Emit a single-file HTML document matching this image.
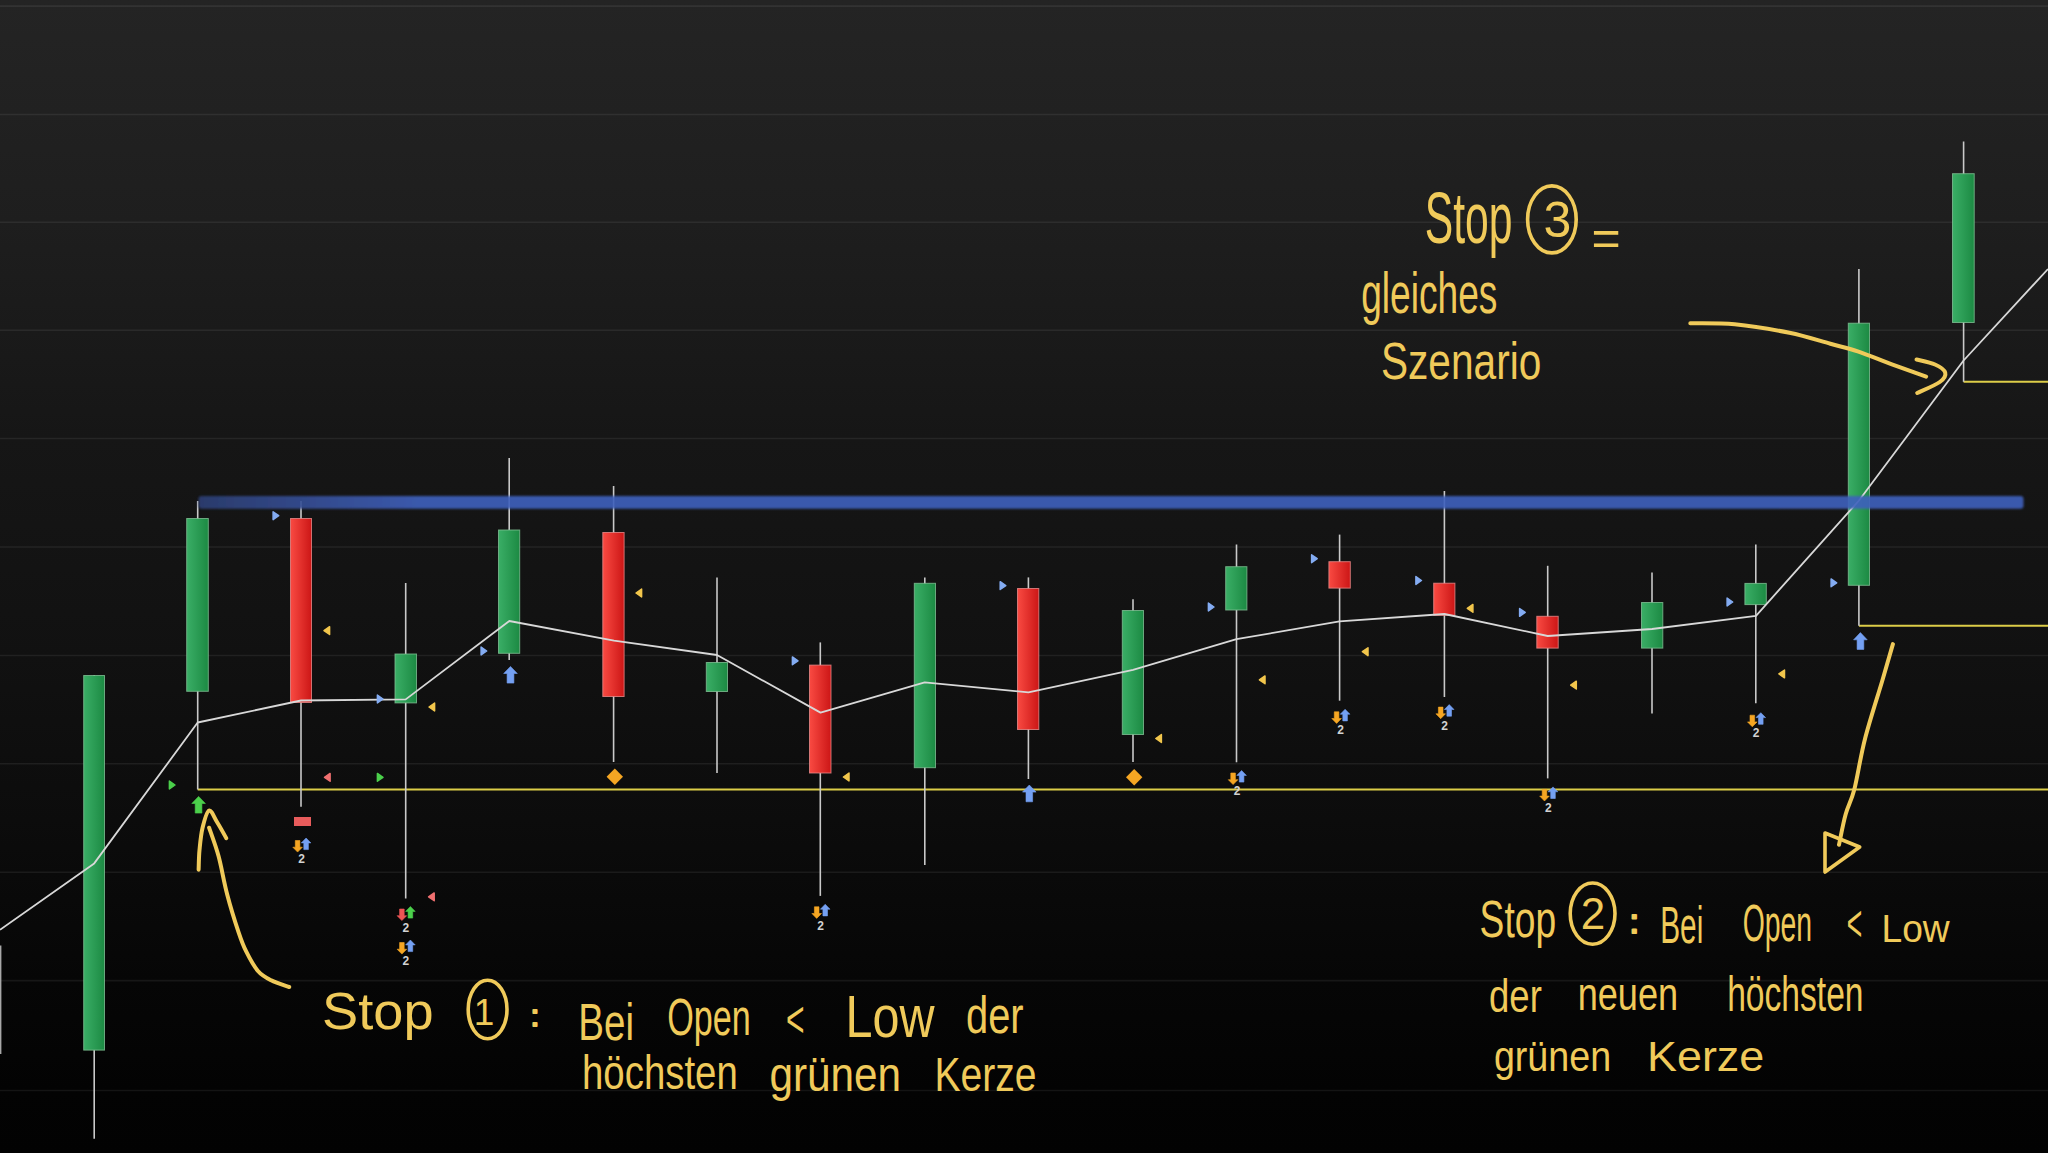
<!DOCTYPE html>
<html><head><meta charset="utf-8"><title>Chart</title>
<style>
html,body{margin:0;padding:0;width:2048px;height:1153px;overflow:hidden;background:#0f0f0f;}
svg{display:block;position:absolute;left:0;top:0;}
.hw{font-family:"Liberation Sans","DejaVu Sans",sans-serif;fill:#f0ca5a;}
.num{font-family:"Liberation Sans","DejaVu Sans",sans-serif;font-weight:700;font-size:12px;fill:#d2d2d2;}
</style></head><body>
<svg width="2048" height="1153" viewBox="0 0 2048 1153">
<defs>
<linearGradient id="bg" x1="0" y1="0" x2="0" y2="1"><stop offset="0.0000" stop-color="#242424"/><stop offset="0.1925" stop-color="#1e1e1e"/><stop offset="0.3799" stop-color="#161616"/><stop offset="0.5681" stop-color="#111111"/><stop offset="0.7112" stop-color="#0c0c0c"/><stop offset="0.8500" stop-color="#060606"/><stop offset="0.9454" stop-color="#030303"/><stop offset="1.0000" stop-color="#020202"/></linearGradient>
<linearGradient id="gg" x1="0" y1="0" x2="1" y2="0"><stop offset="0" stop-color="#3aae66"/><stop offset="1" stop-color="#1c8a43"/></linearGradient>
<linearGradient id="rg" x1="0" y1="0" x2="1" y2="0"><stop offset="0" stop-color="#f94a42"/><stop offset="1" stop-color="#cc1616"/></linearGradient>
<filter id="blur1" filterUnits="userSpaceOnUse" x="150" y="470" width="1920" height="70"><feGaussianBlur stdDeviation="0.9"/></filter>
<linearGradient id="bl" gradientUnits="userSpaceOnUse" x1="198" y1="0" x2="420" y2="0"><stop offset="0" stop-color="#2d3f74"/><stop offset="1" stop-color="#3f60bd"/></linearGradient>
</defs>
<rect x="0" y="0" width="2048" height="1153" fill="url(#bg)"/>
<line x1="0" x2="2048" y1="6.1" y2="6.1" stroke="#ffffff" stroke-opacity="0.07" stroke-width="1.6"/>
<line x1="0" x2="2048" y1="114.5" y2="114.5" stroke="#ffffff" stroke-opacity="0.07" stroke-width="1.6"/>
<line x1="0" x2="2048" y1="222.2" y2="222.2" stroke="#ffffff" stroke-opacity="0.07" stroke-width="1.6"/>
<line x1="0" x2="2048" y1="330.3" y2="330.3" stroke="#ffffff" stroke-opacity="0.07" stroke-width="1.6"/>
<line x1="0" x2="2048" y1="438.5" y2="438.5" stroke="#ffffff" stroke-opacity="0.07" stroke-width="1.6"/>
<line x1="0" x2="2048" y1="547" y2="547" stroke="#ffffff" stroke-opacity="0.07" stroke-width="1.6"/>
<line x1="0" x2="2048" y1="655.5" y2="655.5" stroke="#ffffff" stroke-opacity="0.07" stroke-width="1.6"/>
<line x1="0" x2="2048" y1="763.8" y2="763.8" stroke="#ffffff" stroke-opacity="0.07" stroke-width="1.6"/>
<line x1="0" x2="2048" y1="872.3" y2="872.3" stroke="#ffffff" stroke-opacity="0.07" stroke-width="1.6"/>
<line x1="0" x2="2048" y1="980.6" y2="980.6" stroke="#ffffff" stroke-opacity="0.07" stroke-width="1.6"/>
<line x1="0" x2="2048" y1="1090.5" y2="1090.5" stroke="#ffffff" stroke-opacity="0.07" stroke-width="1.6"/>
<line x1="0.7" x2="0.7" y1="945.5" y2="1054" stroke="#a8a8a8" stroke-width="1.4"/>
<g stroke="#dccd48" stroke-width="2" fill="none">
<line x1="197.7" x2="2048" y1="789.4" y2="789.4"/>
<line x1="1858.9" x2="2048" y1="625.8" y2="625.8"/>
<line x1="1963.6" x2="2048" y1="381.8" y2="381.8"/>
</g>
<g stroke="#c9c9c9" stroke-width="1.6">
<line x1="94.2" x2="94.2" y1="675" y2="1138.8"/>
<line x1="197.7" x2="197.7" y1="501" y2="789.5"/>
<line x1="301" x2="301" y1="501" y2="806.8"/>
<line x1="405.7" x2="405.7" y1="583" y2="898.4"/>
<line x1="509.2" x2="509.2" y1="458" y2="660"/>
<line x1="613.6" x2="613.6" y1="486" y2="762"/>
<line x1="717" x2="717" y1="577.5" y2="773"/>
<line x1="820.3" x2="820.3" y1="642.4" y2="895.9"/>
<line x1="924.8" x2="924.8" y1="577.5" y2="865"/>
<line x1="1028.4" x2="1028.4" y1="577.4" y2="779"/>
<line x1="1133" x2="1133" y1="599.3" y2="762"/>
<line x1="1236.5" x2="1236.5" y1="544.5" y2="762.3"/>
<line x1="1339.6" x2="1339.6" y1="534.6" y2="700.7"/>
<line x1="1444.4" x2="1444.4" y1="491" y2="697"/>
<line x1="1547.7" x2="1547.7" y1="565.8" y2="778.4"/>
<line x1="1652" x2="1652" y1="572.4" y2="713.5"/>
<line x1="1755.8" x2="1755.8" y1="544.6" y2="703.2"/>
<line x1="1858.9" x2="1858.9" y1="269" y2="625.8"/>
<line x1="1963.6" x2="1963.6" y1="141.5" y2="381.8"/>
</g>
<rect x="83.7" y="675.5" width="20.8" height="374.6" fill="url(#gg)" stroke="#7fbf93" stroke-width="1" stroke-opacity="0.8"/>
<rect x="186.7" y="518.5" width="21.6" height="172.8" fill="url(#gg)" stroke="#7fbf93" stroke-width="1" stroke-opacity="0.8"/>
<rect x="290.5" y="518.5" width="21" height="184" fill="url(#rg)" stroke="#e88a8a" stroke-width="1" stroke-opacity="0.8"/>
<rect x="395" y="654" width="21.5" height="48.9" fill="url(#gg)" stroke="#7fbf93" stroke-width="1" stroke-opacity="0.8"/>
<rect x="498.5" y="530" width="21.2" height="123.3" fill="url(#gg)" stroke="#7fbf93" stroke-width="1" stroke-opacity="0.8"/>
<rect x="602.8" y="532.5" width="21.3" height="164" fill="url(#rg)" stroke="#e88a8a" stroke-width="1" stroke-opacity="0.8"/>
<rect x="706.3" y="662.5" width="21.2" height="29" fill="url(#gg)" stroke="#7fbf93" stroke-width="1" stroke-opacity="0.8"/>
<rect x="809.5" y="665.1" width="21.5" height="107.9" fill="url(#rg)" stroke="#e88a8a" stroke-width="1" stroke-opacity="0.8"/>
<rect x="914.3" y="583.3" width="21.2" height="184.4" fill="url(#gg)" stroke="#7fbf93" stroke-width="1" stroke-opacity="0.8"/>
<rect x="1017.5" y="588.5" width="21.3" height="141" fill="url(#rg)" stroke="#e88a8a" stroke-width="1" stroke-opacity="0.8"/>
<rect x="1122.3" y="610.5" width="21.2" height="124" fill="url(#gg)" stroke="#7fbf93" stroke-width="1" stroke-opacity="0.8"/>
<rect x="1225.7" y="566.7" width="21.2" height="43.3" fill="url(#gg)" stroke="#7fbf93" stroke-width="1" stroke-opacity="0.8"/>
<rect x="1328.9" y="561.7" width="21.4" height="26.4" fill="url(#rg)" stroke="#e88a8a" stroke-width="1" stroke-opacity="0.8"/>
<rect x="1433.7" y="583.2" width="21.2" height="32.1" fill="url(#rg)" stroke="#e88a8a" stroke-width="1" stroke-opacity="0.8"/>
<rect x="1536.8" y="616.3" width="21.4" height="31.8" fill="url(#rg)" stroke="#e88a8a" stroke-width="1" stroke-opacity="0.8"/>
<rect x="1641.5" y="602.5" width="21.3" height="45.6" fill="url(#gg)" stroke="#7fbf93" stroke-width="1" stroke-opacity="0.8"/>
<rect x="1744.9" y="583.4" width="21.4" height="21.2" fill="url(#gg)" stroke="#7fbf93" stroke-width="1" stroke-opacity="0.8"/>
<rect x="1848.3" y="323.2" width="21.2" height="262.1" fill="url(#gg)" stroke="#7fbf93" stroke-width="1" stroke-opacity="0.8"/>
<rect x="1952.5" y="173.7" width="21.7" height="148.8" fill="url(#gg)" stroke="#7fbf93" stroke-width="1" stroke-opacity="0.8"/>
<polyline fill="none" stroke="#d8d8d8" stroke-width="1.8" stroke-linejoin="round" points="0,929.8 94.2,863.4 197.7,722.5 301,700.5 405.7,699.4 509.3,621 614,640.7 717,655 820.5,712.6 924.7,682.3 1028.4,692.3 1133,669.8 1236.5,639.2 1339.5,621.4 1444.4,614 1547.7,636 1652,629 1756,615.8 1859,500.5 1963.6,360.5 2048,269"/>
<rect x="198.5" y="496" width="1825" height="12.8" rx="3" fill="url(#bl)" fill-opacity="0.9" filter="url(#blur1)"/>
<g>
<path d="M273.1 511.8L278.7 515.7L273.1 519.6Z" fill="#84acf2" stroke="#84acf2" stroke-width="1.5" stroke-linejoin="round"/>
<path d="M377.4 695.1L383 699L377.4 702.9Z" fill="#84acf2" stroke="#84acf2" stroke-width="1.5" stroke-linejoin="round"/>
<path d="M481.1 647.1L486.7 651L481.1 654.9Z" fill="#84acf2" stroke="#84acf2" stroke-width="1.5" stroke-linejoin="round"/>
<path d="M792.4 656.9L798 660.8L792.4 664.7Z" fill="#84acf2" stroke="#84acf2" stroke-width="1.5" stroke-linejoin="round"/>
<path d="M1000.2 581.7L1005.8 585.6L1000.2 589.5Z" fill="#84acf2" stroke="#84acf2" stroke-width="1.5" stroke-linejoin="round"/>
<path d="M1208.4 603.1L1214 607L1208.4 610.9Z" fill="#84acf2" stroke="#84acf2" stroke-width="1.5" stroke-linejoin="round"/>
<path d="M1311.6 554.8L1317.2 558.7L1311.6 562.6Z" fill="#84acf2" stroke="#84acf2" stroke-width="1.5" stroke-linejoin="round"/>
<path d="M1415.9 576.6L1421.5 580.5L1415.9 584.4Z" fill="#84acf2" stroke="#84acf2" stroke-width="1.5" stroke-linejoin="round"/>
<path d="M1519.6 608.5L1525.2 612.4L1519.6 616.3Z" fill="#84acf2" stroke="#84acf2" stroke-width="1.5" stroke-linejoin="round"/>
<path d="M1727.1 598.1L1732.7 602L1727.1 605.9Z" fill="#84acf2" stroke="#84acf2" stroke-width="1.5" stroke-linejoin="round"/>
<path d="M1831.1 578.9L1836.7 582.8L1831.1 586.7Z" fill="#84acf2" stroke="#84acf2" stroke-width="1.5" stroke-linejoin="round"/>
<path d="M329.6 626.7L324 630.6L329.6 634.5Z" fill="#f2c64c" stroke="#f2c64c" stroke-width="1.5" stroke-linejoin="round"/>
<path d="M434.6 703.1L429 707L434.6 710.9Z" fill="#f2c64c" stroke="#f2c64c" stroke-width="1.5" stroke-linejoin="round"/>
<path d="M641.6 589.1L636 593L641.6 596.9Z" fill="#f2c64c" stroke="#f2c64c" stroke-width="1.5" stroke-linejoin="round"/>
<path d="M849 773.1L843.4 777L849 780.9Z" fill="#f2c64c" stroke="#f2c64c" stroke-width="1.5" stroke-linejoin="round"/>
<path d="M1161.4 734.6L1155.8 738.5L1161.4 742.4Z" fill="#f2c64c" stroke="#f2c64c" stroke-width="1.5" stroke-linejoin="round"/>
<path d="M1265 675.9L1259.4 679.8L1265 683.7Z" fill="#f2c64c" stroke="#f2c64c" stroke-width="1.5" stroke-linejoin="round"/>
<path d="M1368 647.8L1362.4 651.7L1368 655.6Z" fill="#f2c64c" stroke="#f2c64c" stroke-width="1.5" stroke-linejoin="round"/>
<path d="M1472.9 604.4L1467.3 608.3L1472.9 612.2Z" fill="#f2c64c" stroke="#f2c64c" stroke-width="1.5" stroke-linejoin="round"/>
<path d="M1576.3 681.2L1570.7 685.1L1576.3 689Z" fill="#f2c64c" stroke="#f2c64c" stroke-width="1.5" stroke-linejoin="round"/>
<path d="M1784.5 670L1778.9 673.9L1784.5 677.8Z" fill="#f2c64c" stroke="#f2c64c" stroke-width="1.5" stroke-linejoin="round"/>
<path d="M330.1 773.4L324.5 777.3L330.1 781.2Z" fill="#f07070" stroke="#f07070" stroke-width="1.5" stroke-linejoin="round"/>
<path d="M434.2 892.9L428.6 896.8L434.2 900.7Z" fill="#f07070" stroke="#f07070" stroke-width="1.5" stroke-linejoin="round"/>
<path d="M169.4 781.1L175 785L169.4 788.9Z" fill="#4bd04b" stroke="#4bd04b" stroke-width="1.5" stroke-linejoin="round"/>
<path d="M377.4 773.4L383 777.3L377.4 781.2Z" fill="#4bd04b" stroke="#4bd04b" stroke-width="1.5" stroke-linejoin="round"/>
<path d="M198.6 796.4L205.4 803.5L201.9 803.5L201.9 813.1L195.2 813.1L195.2 803.5L191.8 803.5Z" fill="#4bd04b" stroke="#4bd04b" stroke-width="0.6" stroke-linejoin="round"/>
<path d="M510.5 666.4L517.3 673.5L513.9 673.5L513.9 683.1L507.1 683.1L507.1 673.5L503.7 673.5Z" fill="#74a0f2" stroke="#74a0f2" stroke-width="0.6" stroke-linejoin="round"/>
<path d="M1029.3 785L1036.1 792.1L1032.6 792.1L1032.6 801.8L1026 801.8L1026 792.1L1022.5 792.1Z" fill="#74a0f2" stroke="#74a0f2" stroke-width="0.6" stroke-linejoin="round"/>
<path d="M1860.4 632.6L1867.2 639.8L1863.8 639.8L1863.8 649.4L1857.1 649.4L1857.1 639.8L1853.6 639.8Z" fill="#74a0f2" stroke="#74a0f2" stroke-width="0.6" stroke-linejoin="round"/>
<path d="M614.8 768.6L623 776.8L614.8 785L606.6 776.8Z" fill="#f5a623"/>
<path d="M1134.2 769L1142.4 777.2L1134.2 785.4L1126 777.2Z" fill="#f5a623"/>
<rect x="294" y="817" width="17" height="9" fill="#e85c5c"/>
<path d="M297.6 852.1L302.4 847.2L299.9 847.2L299.9 840.5L295.3 840.5L295.3 847.2L292.8 847.2Z" fill="#f5a623" stroke="#f5a623" stroke-width="0.6" stroke-linejoin="round"/>
<path d="M306.1 838L310.9 842.9L308.4 842.9L308.4 849.6L303.8 849.6L303.8 842.9L301.3 842.9Z" fill="#74a0f2" stroke="#74a0f2" stroke-width="0.6" stroke-linejoin="round"/>
<text class="num" x="301.5" y="863.1" text-anchor="middle">2</text>
<path d="M401.9 920.6L406.7 915.7L404.2 915.7L404.2 909L399.6 909L399.6 915.7L397.1 915.7Z" fill="#ee5555" stroke="#ee5555" stroke-width="0.6" stroke-linejoin="round"/>
<path d="M410.4 906.5L415.2 911.4L412.7 911.4L412.7 918.1L408.1 918.1L408.1 911.4L405.6 911.4Z" fill="#4bd04b" stroke="#4bd04b" stroke-width="0.6" stroke-linejoin="round"/>
<text class="num" x="405.8" y="932" text-anchor="middle">2</text>
<path d="M401.9 954.1L406.7 949.2L404.2 949.2L404.2 942.5L399.6 942.5L399.6 949.2L397.1 949.2Z" fill="#f5a623" stroke="#f5a623" stroke-width="0.6" stroke-linejoin="round"/>
<path d="M410.4 940L415.2 944.9L412.7 944.9L412.7 951.6L408.1 951.6L408.1 944.9L405.6 944.9Z" fill="#74a0f2" stroke="#74a0f2" stroke-width="0.6" stroke-linejoin="round"/>
<text class="num" x="405.8" y="964.8" text-anchor="middle">2</text>
<path d="M816.7 918.4L821.5 913.5L819 913.5L819 906.8L814.4 906.8L814.4 913.5L811.9 913.5Z" fill="#f5a623" stroke="#f5a623" stroke-width="0.6" stroke-linejoin="round"/>
<path d="M825.2 904.3L830 909.2L827.5 909.2L827.5 915.9L822.9 915.9L822.9 909.2L820.4 909.2Z" fill="#74a0f2" stroke="#74a0f2" stroke-width="0.6" stroke-linejoin="round"/>
<text class="num" x="820.6" y="929.8" text-anchor="middle">2</text>
<path d="M1233.1 784.6L1237.9 779.7L1235.4 779.7L1235.4 773L1230.8 773L1230.8 779.7L1228.3 779.7Z" fill="#f5a623" stroke="#f5a623" stroke-width="0.6" stroke-linejoin="round"/>
<path d="M1241.6 770.5L1246.4 775.4L1243.9 775.4L1243.9 782.1L1239.3 782.1L1239.3 775.4L1236.8 775.4Z" fill="#74a0f2" stroke="#74a0f2" stroke-width="0.6" stroke-linejoin="round"/>
<text class="num" x="1237" y="795.2" text-anchor="middle">2</text>
<path d="M1336.6 723.4L1341.4 718.5L1338.9 718.5L1338.9 711.8L1334.3 711.8L1334.3 718.5L1331.8 718.5Z" fill="#f5a623" stroke="#f5a623" stroke-width="0.6" stroke-linejoin="round"/>
<path d="M1345.1 709.3L1349.9 714.2L1347.4 714.2L1347.4 720.9L1342.8 720.9L1342.8 714.2L1340.3 714.2Z" fill="#74a0f2" stroke="#74a0f2" stroke-width="0.6" stroke-linejoin="round"/>
<text class="num" x="1340.5" y="734.1" text-anchor="middle">2</text>
<path d="M1440.7 718.7L1445.5 713.8L1443 713.8L1443 707.1L1438.4 707.1L1438.4 713.8L1435.9 713.8Z" fill="#f5a623" stroke="#f5a623" stroke-width="0.6" stroke-linejoin="round"/>
<path d="M1449.2 704.6L1454 709.5L1451.5 709.5L1451.5 716.2L1446.9 716.2L1446.9 709.5L1444.4 709.5Z" fill="#74a0f2" stroke="#74a0f2" stroke-width="0.6" stroke-linejoin="round"/>
<text class="num" x="1444.6" y="730.1" text-anchor="middle">2</text>
<path d="M1544.5 801L1549.3 796.1L1546.8 796.1L1546.8 789.4L1542.2 789.4L1542.2 796.1L1539.7 796.1Z" fill="#f5a623" stroke="#f5a623" stroke-width="0.6" stroke-linejoin="round"/>
<path d="M1553 786.9L1557.8 791.8L1555.3 791.8L1555.3 798.5L1550.7 798.5L1550.7 791.8L1548.2 791.8Z" fill="#74a0f2" stroke="#74a0f2" stroke-width="0.6" stroke-linejoin="round"/>
<text class="num" x="1548.4" y="811.8" text-anchor="middle">2</text>
<path d="M1752.3 726.8L1757.1 721.9L1754.6 721.9L1754.6 715.2L1750 715.2L1750 721.9L1747.5 721.9Z" fill="#f5a623" stroke="#f5a623" stroke-width="0.6" stroke-linejoin="round"/>
<path d="M1760.8 712.7L1765.6 717.6L1763.1 717.6L1763.1 724.3L1758.5 724.3L1758.5 717.6L1756 717.6Z" fill="#74a0f2" stroke="#74a0f2" stroke-width="0.6" stroke-linejoin="round"/>
<text class="num" x="1756.2" y="736.6" text-anchor="middle">2</text>
</g>
<g fill="none" stroke="#f0ca5a" stroke-width="4" stroke-linecap="round" stroke-linejoin="round">
<path d="M289.2 987 C286.2 985.9 276.4 983 271.1 980.3 C265.9 977.6 261.8 975.5 257.7 970.7 C253.6 965.9 249.5 958.1 246.3 951.7 C243.1 945.4 241.9 942.2 238.7 932.6 C235.5 923 230.5 907.1 227.2 894.4 C223.8 881.7 221.6 867.4 218.6 856.3 C215.6 845.2 210.7 832.5 209.1 827.7"/>
<path d="M198.6 869.7 C198.8 866.4 198.8 857 199.5 850 C200.2 843 200.9 834.6 202.5 828 C204.1 821.4 206.7 811.5 209.1 810.5 C211.5 809.5 214.1 817.4 217 822 C219.9 826.6 224.8 835.5 226.3 838.2"/>
<path d="M1690.3 323.2 C1697.7 323.4 1718.2 322.7 1734.7 324.3 C1751.2 325.9 1773.5 329.6 1789.4 332.8 C1805.4 336.1 1819 340.7 1830.4 343.8 C1841.8 346.9 1847.5 347.9 1857.7 351.3 C1868 354.7 1880.5 360.1 1891.9 364.3 C1903.3 368.5 1920.4 374.6 1926.1 376.6"/>
<path d="M1916.5 359.5 C1919.6 360.3 1930.2 362.3 1935 364.5 C1939.8 366.7 1944.4 369.6 1945.2 372.5 C1946 375.4 1944.5 378.6 1939.8 382 C1935.1 385.4 1921 391.2 1917.2 393"/>
<path d="M1892.9 644.1 C1891.2 650.1 1887.1 664.3 1882.5 680 C1877.9 695.7 1869.8 720.2 1865.1 738.5 C1860.4 756.8 1857.5 776.8 1854.3 789.5 C1851 802.2 1848.1 805.3 1845.6 814.5 C1843 823.7 1840.1 839.8 1839 844.8"/>
<path d="M1825 833 L1859.7 847 L1825 872 Z" stroke-width="3.6"/>
</g>
<text class="hw" x="322" y="1029.4" font-size="52" textLength="111.6" lengthAdjust="spacingAndGlyphs">Stop</text>
<text class="hw" x="534.9" y="1025.7" font-size="30" text-anchor="middle" stroke="#f0ca5a" stroke-width="2.2" stroke-linejoin="round">:</text>
<text class="hw" x="578.3" y="1040" font-size="52" textLength="55.7" lengthAdjust="spacingAndGlyphs">Bei</text>
<text class="hw" x="667.3" y="1035" font-size="52" textLength="83.5" lengthAdjust="spacingAndGlyphs">Open</text>
<text class="hw" x="786" y="1036.8" font-size="52" textLength="18.6" lengthAdjust="spacingAndGlyphs">&lt;</text>
<text class="hw" x="845.5" y="1036.8" font-size="60" textLength="89" lengthAdjust="spacingAndGlyphs">Low</text>
<text class="hw" x="966" y="1033" font-size="52" textLength="57.6" lengthAdjust="spacingAndGlyphs">der</text>
<text class="hw" x="582" y="1088.7" font-size="48" textLength="155.8" lengthAdjust="spacingAndGlyphs">höchsten</text>
<text class="hw" x="769.4" y="1090.6" font-size="48" textLength="131.6" lengthAdjust="spacingAndGlyphs">grünen</text>
<text class="hw" x="934.5" y="1090.6" font-size="48" textLength="102.1" lengthAdjust="spacingAndGlyphs">Kerze</text>
<text class="hw" x="1424.8" y="242.7" font-size="72" textLength="87.8" lengthAdjust="spacingAndGlyphs">Stop</text>
<text class="hw" x="1606" y="254.9" font-size="50" text-anchor="middle">=</text>
<text class="hw" x="1361.2" y="313" font-size="57" textLength="136.2" lengthAdjust="spacingAndGlyphs">gleiches</text>
<text class="hw" x="1380.9" y="378.9" font-size="52" textLength="160.4" lengthAdjust="spacingAndGlyphs">Szenario</text>
<text class="hw" x="1479.6" y="937.4" font-size="52" textLength="76.5" lengthAdjust="spacingAndGlyphs">Stop</text>
<text class="hw" x="1634.3" y="933.3" font-size="34" text-anchor="middle" stroke="#f0ca5a" stroke-width="2.2" stroke-linejoin="round">:</text>
<text class="hw" x="1660.2" y="943" font-size="52" textLength="43.1" lengthAdjust="spacingAndGlyphs">Bei</text>
<text class="hw" x="1742.7" y="941" font-size="52" textLength="69.4" lengthAdjust="spacingAndGlyphs">Open</text>
<text class="hw" x="1846.8" y="941" font-size="52" textLength="15.5" lengthAdjust="spacingAndGlyphs">&lt;</text>
<text class="hw" x="1881.5" y="942" font-size="38" textLength="68.2" lengthAdjust="spacingAndGlyphs">Low</text>
<text class="hw" x="1489.1" y="1011.6" font-size="46" textLength="52.7" lengthAdjust="spacingAndGlyphs">der</text>
<text class="hw" x="1577.7" y="1010.4" font-size="46" textLength="100.4" lengthAdjust="spacingAndGlyphs">neuen</text>
<text class="hw" x="1727.2" y="1010.6" font-size="50" textLength="136.3" lengthAdjust="spacingAndGlyphs">höchsten</text>
<text class="hw" x="1493.9" y="1071.4" font-size="42" textLength="117.2" lengthAdjust="spacingAndGlyphs">grünen</text>
<text class="hw" x="1647" y="1071.4" font-size="42" textLength="117.3" lengthAdjust="spacingAndGlyphs">Kerze</text>
<ellipse cx="487.6" cy="1009.5" rx="19.4" ry="29.3" fill="none" stroke="#f0ca5a" stroke-width="3.6"/>
<text class="hw" x="484" y="1024.7" font-size="37" text-anchor="middle">1</text>
<ellipse cx="1551.9" cy="219.4" rx="24.3" ry="33.5" fill="none" stroke="#f0ca5a" stroke-width="3.6"/>
<text class="hw" x="1557.5" y="236.5" font-size="50" text-anchor="middle">3</text>
<ellipse cx="1592.6" cy="913.6" rx="22.4" ry="30.6" fill="none" stroke="#f0ca5a" stroke-width="3.6"/>
<text class="hw" x="1593" y="929.1" font-size="44" text-anchor="middle">2</text>
</svg>
</body></html>
